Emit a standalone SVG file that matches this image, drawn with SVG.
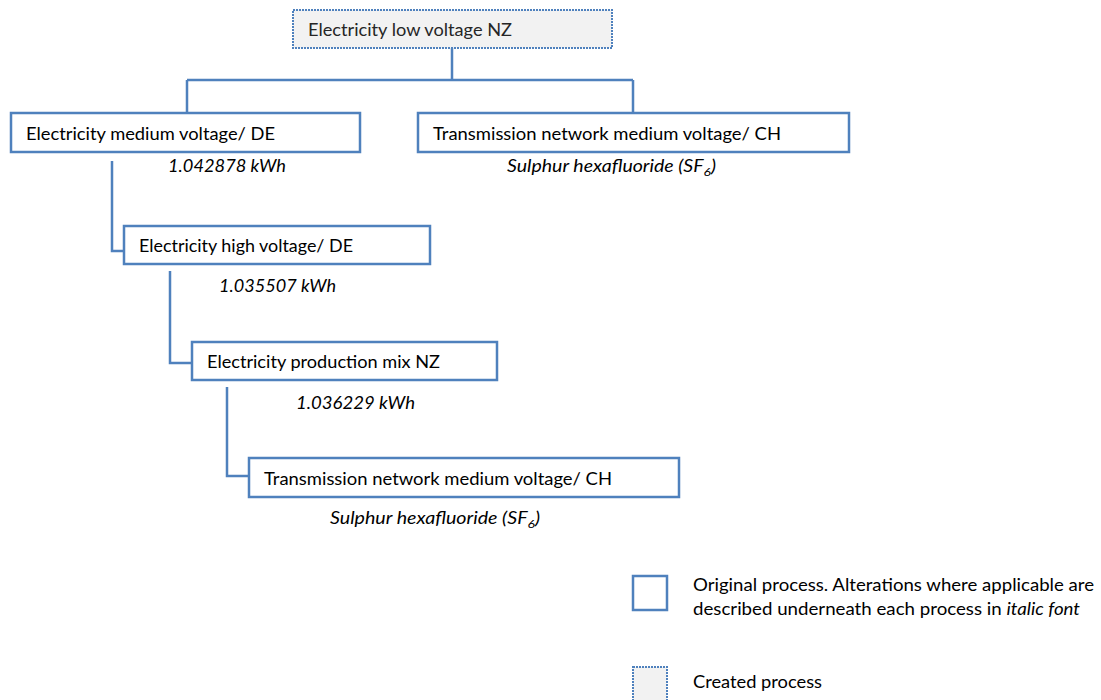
<svg xmlns="http://www.w3.org/2000/svg" width="1101" height="700" viewBox="0 0 1101 700">
<style>
.orig{fill:#ffffff;stroke:#4f81bd;stroke-width:2.5}
.created{fill:#f2f2f2;stroke:#4f81bd;stroke-width:2;stroke-dasharray:2 1}
.conn{fill:none;stroke:#4f81bd;stroke-width:2.5}
text{font-family:Lato,"Open Sans","Liberation Sans",sans-serif;font-size:17px;fill:#000}
.it{font-style:italic}
.grey{fill:#262626}
</style>
<rect width="1101" height="700" fill="#ffffff"/>
<g id="connectors">
<path class="conn" d="M452,48 V80 M187,80 H633 M187,80 V113 M633,80 V113"/>
<path class="conn" d="M112,161 V251 H124"/>
<path class="conn" d="M170,271 V363 H192"/>
<path class="conn" d="M227,387 V476 H249"/>
</g>
<g id="n-low">
<rect class="created" x="293" y="10" width="319" height="38"/>
<text class="grey" x="308" y="36" textLength="204" lengthAdjust="spacingAndGlyphs">Electricity low voltage NZ</text>
</g>
<g id="n-medium">
<rect class="orig" x="11" y="113" width="349" height="39"/>
<text x="26" y="140" textLength="249" lengthAdjust="spacingAndGlyphs">Electricity medium voltage/ DE</text>
<text class="it" x="168" y="172" textLength="118" lengthAdjust="spacingAndGlyphs">1.042878 kWh</text>
</g>
<g id="n-trans1">
<rect class="orig" x="418" y="113" width="431" height="39"/>
<text x="433" y="140" textLength="348" lengthAdjust="spacingAndGlyphs">Transmission network medium voltage/ CH</text>
<text class="it" x="507" y="172" textLength="209" lengthAdjust="spacingAndGlyphs">Sulphur hexafluoride (SF<tspan font-size="12" dy="4">6</tspan><tspan dy="-4">)</tspan></text>
</g>
<g id="n-high">
<rect class="orig" x="124" y="226" width="306" height="38"/>
<text x="139" y="252" textLength="214" lengthAdjust="spacingAndGlyphs">Electricity high voltage/ DE</text>
<text class="it" x="219" y="292" textLength="117" lengthAdjust="spacingAndGlyphs">1.035507 kWh</text>
</g>
<g id="n-mix">
<rect class="orig" x="192" y="342" width="305" height="38"/>
<text x="207" y="368" textLength="233" lengthAdjust="spacingAndGlyphs">Electricity production mix NZ</text>
<text class="it" x="296" y="409" textLength="119" lengthAdjust="spacingAndGlyphs">1.036229 kWh</text>
</g>
<g id="n-trans2">
<rect class="orig" x="249" y="458" width="430" height="39"/>
<text x="264" y="485" textLength="348" lengthAdjust="spacingAndGlyphs">Transmission network medium voltage/ CH</text>
<text class="it" x="330" y="524" textLength="210" lengthAdjust="spacingAndGlyphs">Sulphur hexafluoride (SF<tspan font-size="12" dy="4">6</tspan><tspan dy="-4">)</tspan></text>
</g>
<g id="legend">
<rect class="orig" x="633" y="576" width="34" height="34"/>
<text x="693" y="591" textLength="401" lengthAdjust="spacingAndGlyphs">Original process. Alterations where applicable are</text>
<text x="693" y="615" textLength="387" lengthAdjust="spacingAndGlyphs">described underneath each process in <tspan class="it">italic font</tspan></text>
<rect class="created" x="633" y="667" width="34" height="34"/>
<text x="693" y="688" textLength="129" lengthAdjust="spacingAndGlyphs">Created process</text>
</g>
</svg>
